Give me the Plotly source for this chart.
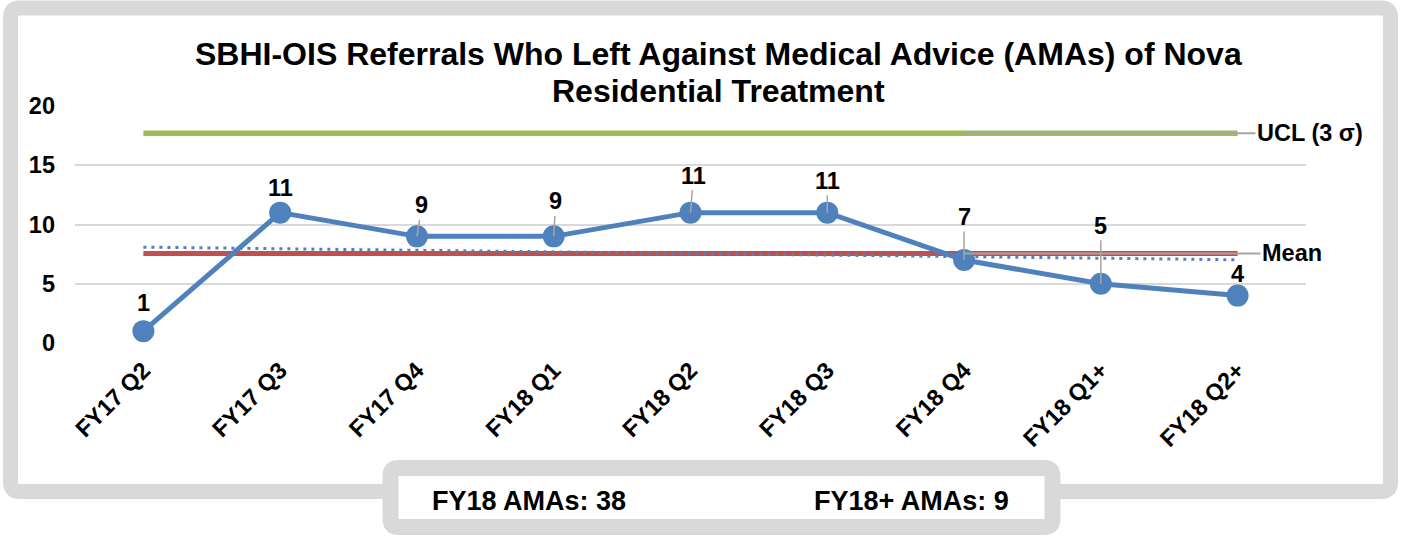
import numpy as np
import plotly.graph_objects as go

# ---------------- data ----------------
categories = ["FY17 Q2", "FY17 Q3", "FY17 Q4", "FY18 Q1", "FY18 Q2",
              "FY18 Q3", "FY18 Q4", "FY18 Q1+", "FY18 Q2+"]
amas = [1, 11, 9, 9, 11, 11, 7, 5, 4]
mean_value = 7.56
ucl_value = 17.7
y_ticks = [0, 5, 10, 15, 20]
title_lines = ["SBHI-OIS Referrals Who Left Against Medical Advice (AMAs) of Nova",
               "Residential Treatment"]
summary_texts = ["FY18 AMAs: 38", "FY18+ AMAs: 9"]
ucl_label = "UCL (3 σ)"
mean_label = "Mean"

# linear trendline of the series (as Excel draws it)
xi = np.arange(len(amas))
coef = np.polyfit(xi, amas, 1)
trend = np.polyval(coef, xi)

# ---------------- layout geometry (pixels) ----------------
W, H = 1401, 537
PL, PR, PT, PB = 75, 1306, 106, 343          # plot area edges
FONT = "Liberation Sans, Arial, sans-serif"
BLUE = "#4f81bd"
RED = "#c0504d"
GREEN = "#9bbb59"
FRAME = "#d9d9d9"
LEADER = "#a6a6a6"
FS = 23.5


def px(p):
    return p / W


def py(p):
    return 1 - p / H


def rrect(x0, y0, x1, y1, r):
    pts = [
        ("M", [(x0 + r, y0)]), ("L", [(x1 - r, y0)]), ("Q", [(x1, y0), (x1, y0 + r)]),
        ("L", [(x1, y1 - r)]), ("Q", [(x1, y1), (x1 - r, y1)]),
        ("L", [(x0 + r, y1)]), ("Q", [(x0, y1), (x0, y1 - r)]),
        ("L", [(x0, y0 + r)]), ("Q", [(x0, y0), (x0 + r, y0)]),
    ]
    s = ""
    for cmd, coords in pts:
        s += cmd + " " + " ".join(f"{px(a):.5f},{py(b):.5f}" for a, b in coords) + " "
    return s + "Z"


fig = go.Figure()

fig.add_trace(go.Scatter(x=categories, y=[ucl_value] * len(categories), mode="lines",
                         line=dict(color=GREEN, width=5.5), hoverinfo="skip"))
fig.add_trace(go.Scatter(x=categories, y=[mean_value] * len(categories), mode="lines",
                         line=dict(color=RED, width=5), hoverinfo="skip"))
fig.add_trace(go.Scatter(x=categories, y=trend, mode="lines",
                         line=dict(color=BLUE, width=3, dash="3px,5px"), hoverinfo="skip"))
fig.add_trace(go.Scatter(x=categories, y=amas, mode="lines+markers",
                         line=dict(color=BLUE, width=5),
                         marker=dict(color=BLUE, size=22), hoverinfo="skip"))

# summary texts in the bottom text box (own small subplot, so the box clips the text)
BOX_X0, BOX_X1, BOX_Y0, BOX_Y1 = 399, 1044, 472, 510
fig.add_trace(go.Scatter(x=[432, 814], y=[503, 503], text=summary_texts, mode="text",
                         textposition="middle right", cliponaxis=True,
                         textfont=dict(family=FONT, size=27, color="black", weight="bold"),
                         xaxis="x2", yaxis="y2", hoverinfo="skip"))

# ---------------- frame shapes ----------------
shapes = [
    dict(type="path", xref="paper", yref="paper", path=rrect(10.5, 8, 1390.5, 491.5, 9),
         line=dict(color=FRAME, width=15), fillcolor="white", layer="below"),
    dict(type="path", xref="paper", yref="paper", path=rrect(390.5, 468, 1052.5, 527, 8),
         line=dict(color=FRAME, width=16), fillcolor="white", layer="below"),
]

annotations = []
# title (two lines)
for line_txt, cy in zip(title_lines, [54, 91]):
    annotations.append(dict(text=line_txt, xref="paper", yref="paper", x=px(719), y=py(cy),
                            xanchor="center", yanchor="middle", showarrow=False,
                            font=dict(family=FONT, size=32, color="black", weight="bold")))

# data labels: (dx, dy) pixel offsets of the label centre, leader flag
label_style = [(0, -28, False), (0, -25, False), (5, -31, True), (2, -35, True),
               (3, -37, True), (0, -32, True), (0, -43, True), (0, -58, True),
               (0, -22, False)]
for i, (cat, v) in enumerate(zip(categories, amas)):
    dx, dy, lead = label_style[i]
    a = dict(x=cat, y=v, xref="x", yref="y", text=str(v),
             font=dict(family=FONT, size=FS, color="black", weight="bold"))
    if lead:
        a.update(showarrow=True, ax=dx, ay=dy, arrowhead=0, arrowwidth=1.5,
                 arrowcolor=LEADER, standoff=0)
    else:
        a.update(showarrow=False, xshift=dx, yshift=-dy)
    annotations.append(a)

# right-hand line labels with leader lines from FY18 Q4
head_px = PL + (PR - PL) / len(categories) * 6.5
for lab, val, cx in [(ucl_label, ucl_value, 1310), (mean_label, mean_value, 1292)]:
    annotations.append(dict(x=categories[6], y=val, xref="x", yref="y", text=lab,
                            showarrow=True, ax=cx - head_px, ay=0, arrowhead=0,
                            arrowwidth=2, arrowcolor=LEADER, standoff=0,
                            font=dict(family=FONT, size=FS, color="black", weight="bold")))

fig.update_layout(
    width=W, height=H,
    margin=dict(l=0, r=0, t=0, b=0, autoexpand=False),
    paper_bgcolor="white", plot_bgcolor="rgba(0,0,0,0)",
    showlegend=False,
    shapes=shapes, annotations=annotations,
    xaxis=dict(type="category", range=[-0.5, len(categories) - 0.5],
               domain=[px(PL), px(PR)], showgrid=False,
               zeroline=False, showline=False, ticks="", tickangle=-45,
               ticklabelstandoff=8,
               tickfont=dict(family=FONT, size=FS, color="black", weight="bold")),
    yaxis=dict(range=[0, 20], tickvals=y_ticks, domain=[py(PB), py(PT)],
               showgrid=True, gridcolor=FRAME,
               gridwidth=1.5, zeroline=False, showline=False, ticks="",
               ticklabelstandoff=19,
               tickfont=dict(family=FONT, size=FS, color="black", weight="bold")),
    xaxis2=dict(domain=[px(BOX_X0), px(BOX_X1)], range=[BOX_X0, BOX_X1], visible=False,
                fixedrange=True, anchor="y2"),
    yaxis2=dict(domain=[py(BOX_Y1), py(BOX_Y0)], range=[BOX_Y1, BOX_Y0], visible=False,
                fixedrange=True, anchor="x2"),
)

fig.write_html("out.html", config={"displayModeBar": False},
               post_script="document.body.style.margin='0';")
